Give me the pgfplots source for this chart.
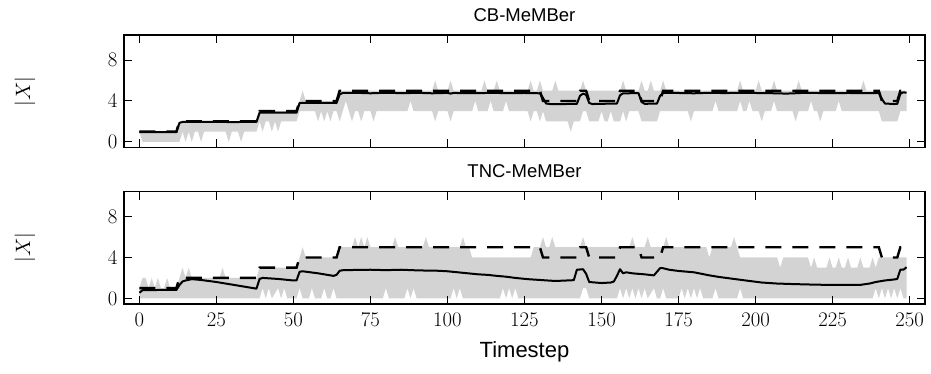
\documentclass[border=0pt]{standalone}
\usepackage{fontspec}
\usepackage{pgfplots}
\pgfplotsset{compat=1.18}
\usepgfplotslibrary{fillbetween}
\newfontfamily\hv{Liberation Sans}
\definecolor{band}{RGB}{211,211,211}

\pgfplotsset{panel/.style={
  scale only axis, width=801pt, height=112.5pt,
  xmin=-5, xmax=255, ymin=-0.55, ymax=10.45,
  xtick={0,25,...,250}, ytick={0,4,8},
  axis on top,
  axis line style={line width=1.6pt},
  tick style={line width=1pt, black},
  major tick length=8pt,
  tick label style={font=\fontsize{22}{25}\selectfont},
  xticklabel style={yshift=-6pt},
  yticklabel style={xshift=-3pt},
  title style={font=\hv\fontsize{18.5}{22}\selectfont, at={(0.5,1)}, anchor=south, yshift=4pt},
  ylabel={$|X|$},
  ylabel style={font=\fontsize{22}{25}\selectfont, at={(axis description cs:-0.1236,0.5)}, anchor=center},
  truth/.style={black, line width=2.4pt, dash pattern=on 16pt off 11pt},
  est/.style={black, line width=2pt, line join=round},
}}

\begin{document}
\begin{tikzpicture}
\begin{axis}[panel, at={(0,0)}, anchor=north west, title={CB-MeMBer}, xticklabels={}]
\addplot[name path=cbU, draw=none, forget plot] coordinates {
(0,1)(12,1)(13,2)(38,2)(39,3)(51,3)(52,4)(53,5)(54,4)(64,4)(65,5)
(95,5)(96,6)(97,5)(100,5)(101,6)(102,5)(111,5)(112,6)(113,5)(115,5)(116,6)(117,5)
(126,5)(127,6)(128,5)(129,5)(130,6)(131,5)(134,5)(135,6)(136,5)(143,5)(144,6)(145,5)
(156,5)(157,6)(158,5)(162,5)(163,6)(164,5)(165,5)(166,6)(167,5)(169,5)(170,6)(171,5)
(194,5)(195,6)(196,5)(200,5)(201,6)(202,5)(205,5)(206,6)(207,5)(213,5)(214,6)(215,5)
(234,5)(235,6)(236,5)(249,5)};
\addplot[name path=cbL, draw=none, forget plot] coordinates {
(0,1)(1,0)(13,0)(14,1)(15,0)(16,1)(17,0)(18,1)(19,1)(20,0)(21,1)(28,1)(29,0)(30,1)(32,1)(33,0)(34,1)(38,1)
(39,2)(40,1)(41,2)(42,2)(43,1)(44,2)(45,1)(46,2)(51,2)(52,3)(57,3)(58,2)(59,3)(60,2)(61,3)(62,2)(63,3)(64,3)
(65,2)(66,3)(67,4)(68,3)(69,2)(70,3)(71,3)(72,2)(73,3)(75,3)(76,2)(77,3)(87,3)(88,4)(89,3)(95,3)(96,2)(97,3)
(100,3)(101,2)(102,3)(108,3)(109,4)(110,3)(113,3)(114,4)(115,3)(118,3)(119,4)(120,3)(126,3)(127,2)(128,3)(129,3)
(130,2)(131,3)(132,2)(139,2)(140,1)(141,2)(143,2)(144,3)(145,3)(146,2)(149,2)(150,3)(151,2)(152,2)(153,3)(154,2)
(156,2)(157,3)(158,2)(159,3)(162,3)(163,2)(168,2)(169,3)(178,3)(179,2)(180,3)(186,3)(187,4)(188,3)(194,3)(195,4)
(196,3)(197,3)(198,4)(199,3)(201,3)(202,2)(203,3)(205,3)(206,4)(207,3)(212,3)(213,2)(214,3)(217,3)(218,4)(219,3)
(220,3)(221,2)(222,3)(226,3)(227,4)(228,3)(240,3)(241,2)(246,2)(247,3)(249,3)};
\addplot[fill=band, draw=none] fill between[of=cbU and cbL];
\addplot[truth] coordinates {
(0,1)(12,1)(13,2)(38,2)(39,3)(51,3)(52,4)(64,4)(65,5)(130,5)(131,4)(142,4)(143,5)(145,5)(146,4)(155,4)
(156,5)(162,5)(163,4)(169,4)(170,5)(240,5)(241,4)(246,4)(247,5)(249,5)};
\addplot[est] coordinates {
(0,0.95)(5,0.96)(12,0.95)(13,1.85)(14,1.95)(20,1.96)(30,1.94)(38,1.95)(39,2.85)(45,2.87)(51,2.85)
(52,3.8)(58,3.82)(64,3.8)(65,4.65)(66,4.78)(70,4.8)(75,4.75)(80,4.8)(86,4.76)(90,4.8)(95,4.75)
(100,4.79)(101,4.72)(102,4.78)(110,4.77)(115,4.79)(120,4.76)(125,4.78)(130,4.75)(131,4.3)(132,3.75)
(134,3.68)(138,3.7)(142,3.72)(143,4.5)(144,4.72)(145,4.6)(146,3.8)(147,3.7)(150,3.72)(155,3.75)
(156,4.55)(157,4.75)(162,4.76)(163,3.9)(164,3.72)(168,3.75)(169,4.5)(170,4.78)(175,4.78)(180,4.75)
(185,4.8)(190,4.77)(195,4.8)(200,4.78)(205,4.76)(210,4.72)(215,4.78)(220,4.78)(225,4.76)(230,4.78)
(235,4.77)(240,4.78)(241,4.2)(242,3.75)(245,3.7)(246,3.72)(247,4.7)(248,4.85)(249,4.8)};
\end{axis}

\begin{axis}[panel, at={(0,-156.5pt)}, anchor=north west, title={TNC-MeMBer},
  xlabel={Timestep},
  xlabel style={font=\hv\fontsize{22}{26}\selectfont, at={(axis description cs:0.5,0)}, anchor=center, yshift=-48pt}]
\addplot[name path=tU, draw=none, forget plot] coordinates {
(0,1)(1,2)(2,2)(3,1)(4,2)(5,1)(6,2)(7,1)(8,1)(9,2)(10,1)(12,1)(13,2)(14,3)(15,2)(16,3)(17,2)(26,2)(27,3)(28,2)
(38,2)(39,3)(51,3)(52,4)(53,5)(54,4)(64,4)(65,5)(69,5)(70,6)(71,5)(72,6)(73,5)(74,6)(75,5)(82,5)(83,6)(84,5)
(92,5)(93,6)(94,5)(104,5)(105,6)(106,5)(107,5)(108,4)(127,4)(128,5)(130,5)(131,6)(132,5)(133,5)(134,6)(135,5)
(143,5)(144,6)(145,5)(159,5)(160,6)(161,5)(164,5)(165,6)(166,5)(170,5)(171,6)(172,5)(184,5)(185,4)(186,5)
(192,5)(193,6)(194,5)(195,4)(207,4)(208,3)(209,4)(217,4)(218,3)(219,4)(220,3)(223,3)(224,4)(225,3)(226,3)
(227,4)(228,3)(229,3)(230,4)(231,3)(233,3)(234,4)(235,3)(237,3)(238,4)(239,3)(240,4)(249,4)};
\addplot[name path=tL, draw=none, forget plot] coordinates {
(0,0)(39,0)(40,1)(41,0)(42,1)(43,0)(45,1)(46,0)(47,1)(48,0)(51,0)(52,1)(53,0)(55,0)(56,1)(57,0)(59,0)(60,1)
(61,0)(62,0)(63,1)(64,0)(79,0)(80,1)(81,0)(86,0)(87,1)(88,0)(89,1)(90,0)(101,0)(102,1)(103,0)(104,1)(105,0)
(117,0)(118,1)(119,0)(120,1)(121,0)(122,1)(123,0)(143,0)(144,1)(145,1)(146,0)(155,0)(156,1)(157,0)(158,1)
(159,0)(160,1)(161,0)(162,1)(163,0)(164,1)(165,0)(167,1)(168,0)(169,0)(170,1)(171,0)(175,0)(176,1)(177,0)
(178,1)(179,0)(180,1)(181,0)(182,1)(183,0)(186,0)(187,1)(188,0)(194,0)(195,1)(196,0)(238,0)(239,1)(240,0)
(241,1)(242,0)(243,1)(244,0)(245,1)(246,0)(247,1)(248,0)(249,0)};
\addplot[fill=band, draw=none] fill between[of=tU and tL];
\addplot[truth] coordinates {
(0,1)(12,1)(13,2)(38,2)(39,3)(51,3)(52,4)(64,4)(65,5)(130,5)(131,4)(142,4)(143,5)(145,5)(146,4)(155,4)
(156,5)(162,5)(163,4)(169,4)(170,5)(240,5)(241,4)(246,4)(247,5)(249,5)};
\addplot[est] coordinates {
(0,0.55)(1,0.8)(6,0.82)(12,0.82)(13,1.3)(14,1.65)(15,1.75)(17,1.88)(20,1.8)(25,1.6)(30,1.35)(35,1.1)(38,0.95)
(39,1.9)(40,2.0)(45,1.9)(50,1.75)(51,1.75)(52,2.6)(53,2.65)(58,2.45)(63,2.2)(64,2.3)(65,2.7)(66,2.75)
(70,2.78)(75,2.8)(80,2.76)(85,2.8)(90,2.74)(93,2.72)(97,2.7)(100,2.65)(105,2.5)(110,2.35)(113,2.3)(116,2.2)
(119,2.12)(122,2.0)(126,1.88)(130,1.8)(135,1.7)(138,1.74)(141,1.78)(142,2.8)(144,2.85)(145,2.4)(146,1.6)
(150,1.5)(153,1.55)(154,1.65)(155,2.2)(156,2.85)(157,2.45)(158,2.55)(160,2.45)(164,2.35)(167,2.25)(168,2.6)
(169,2.95)(170,2.95)(172,2.8)(175,2.68)(180,2.55)(185,2.25)(188,2.1)(191,1.98)(196,1.78)(202,1.55)(207,1.45)
(212,1.4)(217,1.36)(223,1.32)(228,1.33)(234,1.32)(237,1.45)(239,1.6)(242,1.75)(245,1.85)(246,1.9)(247,2.8)
(248,2.8)(249,3.05)};
\end{axis}
\pgfresetboundingbox
\path[use as bounding box] (-124pt,35pt) rectangle (807pt,-339pt);
\end{tikzpicture}
\end{document}
